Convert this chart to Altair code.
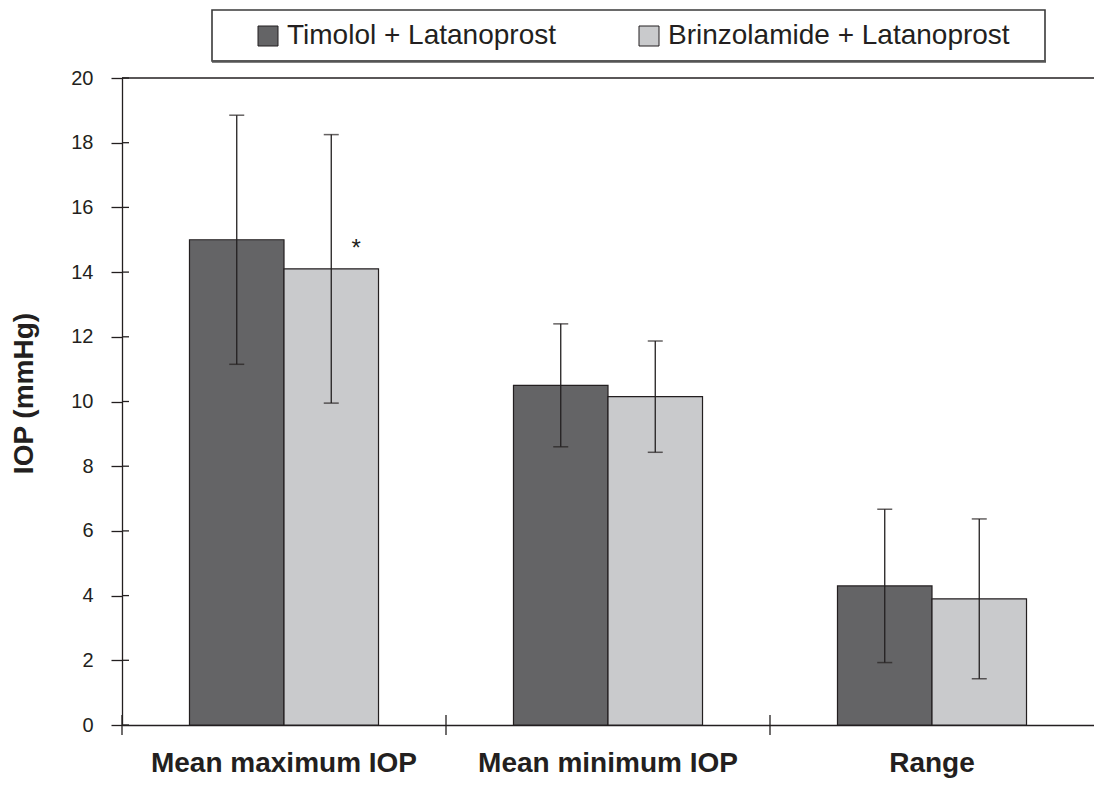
import altair as alt
import pandas as pd

# ---- data ----
categories = ["Mean maximum IOP", "Mean minimum IOP", "Range"]
series = ["Timolol + Latanoprost", "Brinzolamide + Latanoprost"]
timolol_mean = [15.0, 10.5, 4.3]
timolol_sd = [3.85, 1.9, 2.37]
brinz_mean = [14.1, 10.15, 3.9]
brinz_sd = [4.15, 1.72, 2.47]
y_ticks = [0, 2, 4, 6, 8, 10, 12, 14, 16, 18, 20]
colors = ["#646466", "#c9cacc"]
sig_category = ["Mean maximum IOP"]
sig_series = ["Brinzolamide + Latanoprost"]
sig_y = [14.7]
sig_label = ["*"]

rows = []
for i, c in enumerate(categories):
    rows.append(dict(category=c, series=series[0], mean=timolol_mean[i], sd=timolol_sd[i]))
    rows.append(dict(category=c, series=series[1], mean=brinz_mean[i], sd=brinz_sd[i]))
df = pd.DataFrame(rows)
df["lo"] = df["mean"] - df["sd"]
df["hi"] = df["mean"] + df["sd"]

df_cat = pd.DataFrame({"category": categories})
df_ticks = pd.DataFrame({"v": y_ticks})
df_sig = pd.DataFrame({"category": sig_category, "series": sig_series, "y": sig_y, "label": sig_label})

W, H = 972, 647
PAD_L, PAD_T, PAD_B = 114, 70, 54
FONT = "Liberation Sans"
INK = "#231f20"
YT = "IOP (mmHg)"

x_main = alt.X(
    "category:N", sort=categories, title=None,
    scale=alt.Scale(paddingInner=0, paddingOuter=0),
    axis=alt.Axis(title=None, labelFont=FONT, labelFontSize=28, labelFontWeight="bold",
                  labelColor=INK, labelPadding=24, ticks=False, domainColor=INK,
                  domainWidth=1.3, labelAngle=0, labelLimit=0),
)
x_plain = alt.X("category:N", sort=categories, title=None)
xo_main = alt.XOffset("series:N", sort=series,
                      scale=alt.Scale(paddingInner=0, paddingOuter=0.714))
xo_plain = alt.XOffset("series:N", sort=series)

y_scale = alt.Scale(domain=[0, 20], nice=False, zero=True)
y_main = alt.Y(
    "mean:Q", scale=y_scale, title=YT,
    axis=alt.Axis(values=y_ticks, title=YT, grid=False,
                  labelFont=FONT, labelFontSize=20, labelColor=INK, labelPadding=18,
                  tickSize=11, tickColor=INK, tickWidth=1.3, domainColor=INK, domainWidth=1.3,
                  titleFont=FONT, titleFontSize=28, titleFontWeight="bold", titleColor=INK,
                  titlePadding=32, titleY=315),
)

base = alt.Chart(df)
one = pd.DataFrame({"k": [0]})

box = alt.Chart(one).mark_rect(
    fill="white", stroke="#3a3a3a", strokeWidth=1.6
).encode(x=alt.value(90), x2=alt.value(923), y=alt.value(-68), y2=alt.value(-17))

box_shadow = alt.Chart(one).mark_rule(color="#555555", strokeWidth=2.6).encode(
    x=alt.value(90), x2=alt.value(924), y=alt.value(-16.5)
)

top_line = alt.Chart(one).mark_rule(color=INK, strokeWidth=1.3).encode(
    y=alt.datum(20, title=YT)
)

bars = base.mark_bar(stroke=INK, strokeWidth=1.2).encode(
    x=x_main, xOffset=xo_main, y=y_main,
    color=alt.Color(
        "series:N", sort=series,
        scale=alt.Scale(domain=series, range=colors),
        legend=alt.Legend(
            title=None, orient="none", legendX=132, legendY=-56, direction="horizontal",
            symbolType="square", symbolSize=400, symbolStrokeColor=INK, symbolStrokeWidth=1,
            symbolOpacity=1, labelFont=FONT, labelFontSize=28, labelColor=INK,
            labelOffset=5, columnPadding=79, padding=0, labelLimit=0,
        ),
    ),
)

err = base.mark_rule(color=INK, strokeWidth=1.3).encode(
    x=x_plain, xOffset=xo_plain, y=alt.Y("lo:Q", title=YT), y2="hi:Q"
)
cap_lo = base.mark_tick(color=INK, size=15, thickness=1.5).encode(
    x=x_plain, xOffset=xo_plain, y=alt.Y("lo:Q", title=YT)
)
cap_hi = base.mark_tick(color=INK, size=15, thickness=1.5).encode(
    x=x_plain, xOffset=xo_plain, y=alt.Y("hi:Q", title=YT)
)

ytick_in = alt.Chart(df_ticks).mark_rule(color=INK, strokeWidth=1.3).encode(
    y=alt.Y("v:Q", title=YT), x=alt.value(0), x2=alt.value(7)
)

xtick = alt.Chart(df_cat).mark_rule(color=INK, strokeWidth=1.3).encode(
    x=alt.X("category:N", sort=categories, bandPosition=0, title=None),
    y=alt.value(H - 10), y2=alt.value(H + 10),
)

star = alt.Chart(df_sig).mark_text(
    font=FONT, fontSize=24, color=INK, dx=25, baseline="middle"
).encode(x=x_plain, xOffset=xo_plain, y=alt.Y("y:Q", title=YT), text="label:N")

chart = alt.layer(
    box, box_shadow, top_line, bars, err, cap_lo, cap_hi, ytick_in, xtick, star
).properties(
    width=W, height=H, background="white",
    padding={"left": PAD_L, "top": PAD_T, "right": 0, "bottom": PAD_B},
    autosize=alt.AutoSizeParams(type="none"),
).configure_view(stroke=None)

chart.save("out.html", embed_options={"renderer": "svg", "actions": False})
